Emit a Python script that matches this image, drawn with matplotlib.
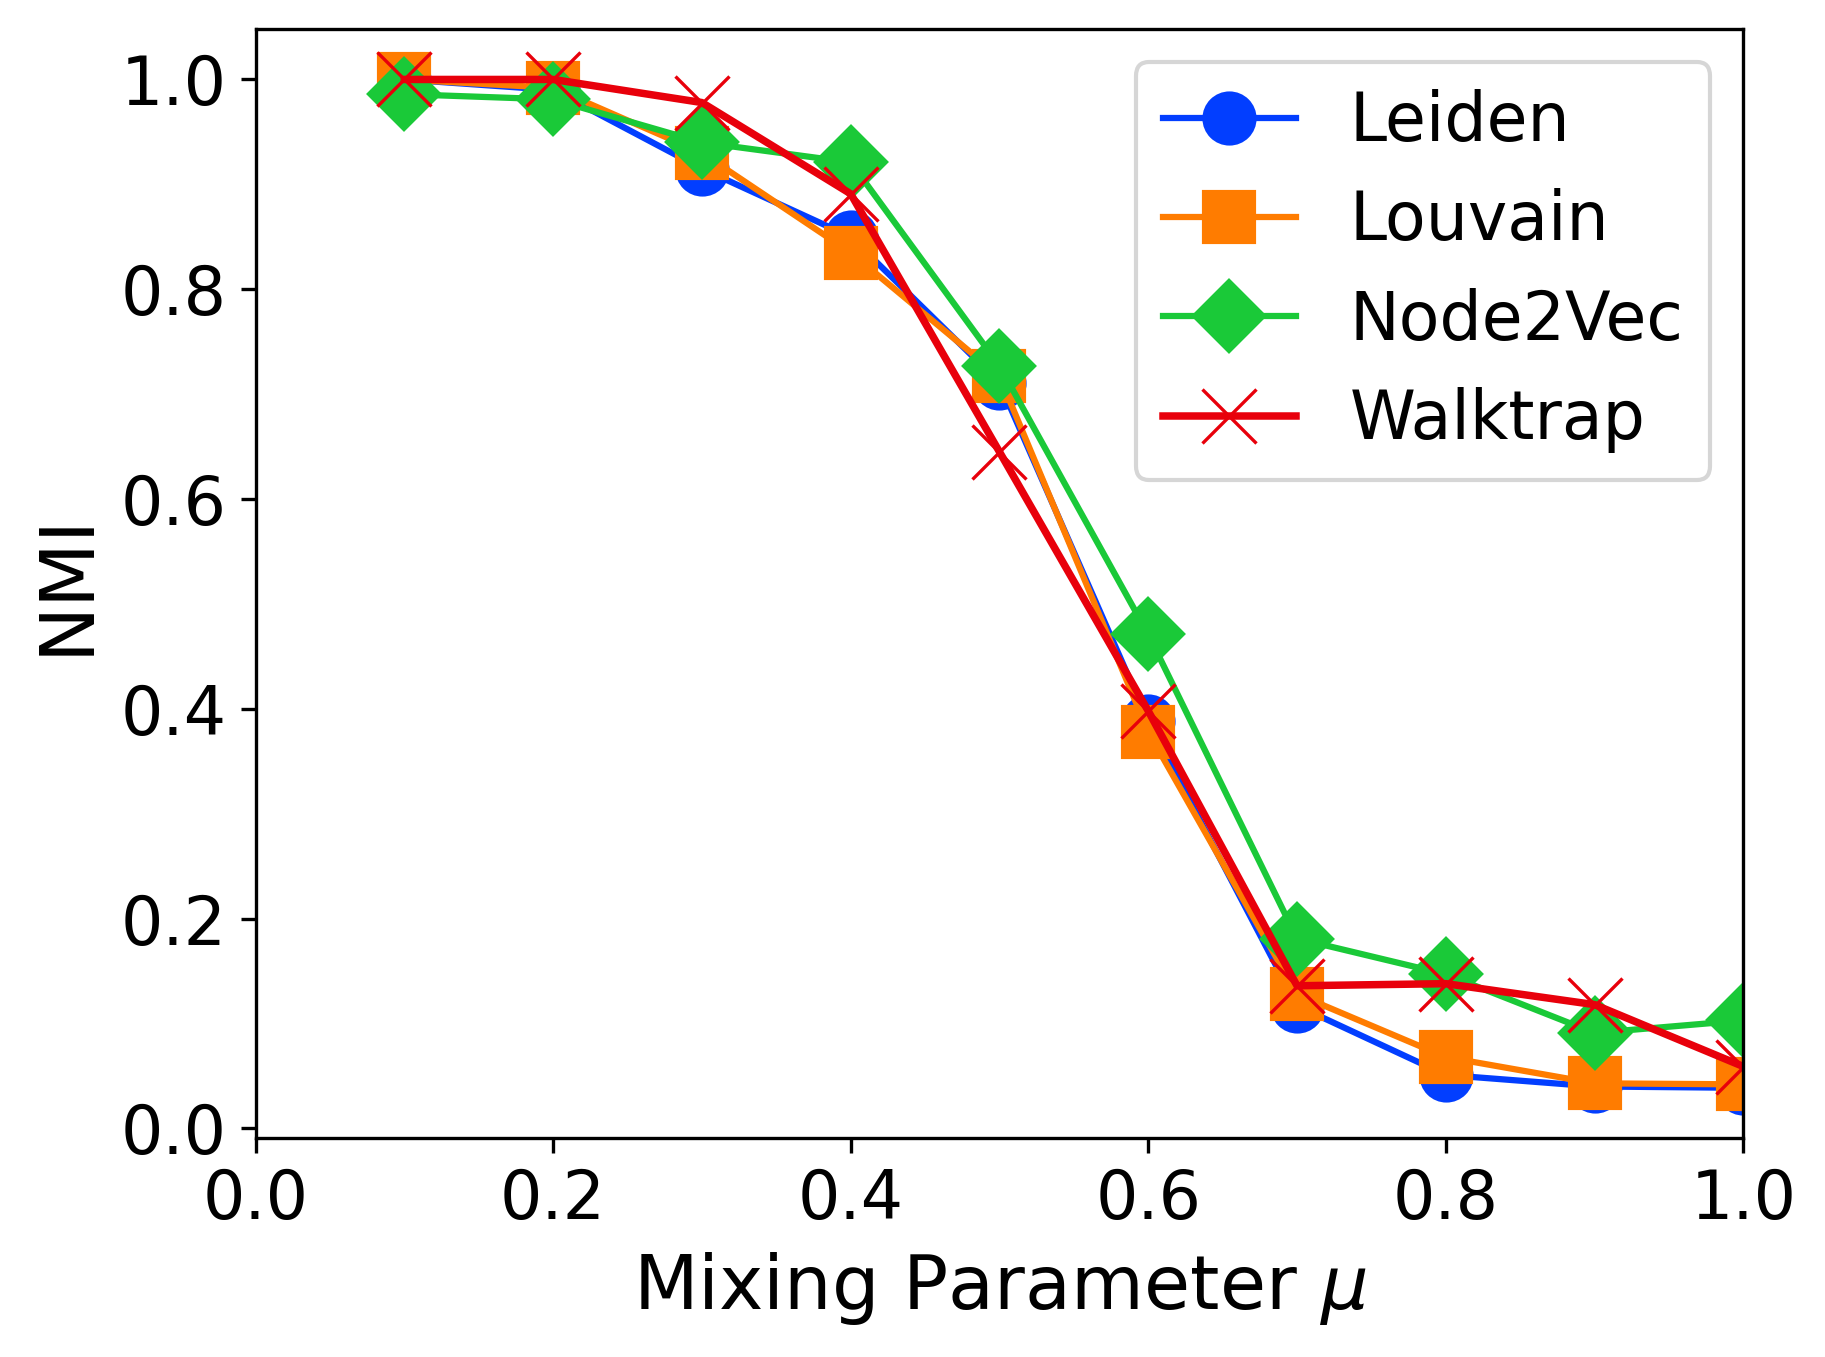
import matplotlib
matplotlib.use('Agg')
import matplotlib.pyplot as plt

mu = [0.1, 0.2, 0.3, 0.4, 0.5, 0.6, 0.7, 0.8, 0.9, 1.0]

leiden = [1.0, 0.99, 0.915, 0.850, 0.711, 0.388, 0.117, 0.051, 0.040, 0.0387]
louvain = [1.0, 0.992, 0.930, 0.835, 0.717, 0.378, 0.128, 0.068, 0.043, 0.042]
node2vec = [0.986, 0.981, 0.940, 0.921, 0.727, 0.471, 0.181, 0.147, 0.091, 0.103]
walktrap = [1.0, 1.0, 0.978, 0.891, 0.645, 0.398, 0.136, 0.138, 0.118, 0.059]

# seaborn "bright" palette colours
series = [
    ('Leiden', leiden, 'o', '#023eff', 1.5, 12),
    ('Louvain', louvain, 's', '#ff7c00', 1.5, 12),
    ('Node2Vec', node2vec, 'D', '#1ac938', 1.5, 12),
    ('Walktrap', walktrap, 'x', '#e8000b', 1.8, 13),
]

fig = plt.figure(figsize=(1825 / 300, 1357 / 300), dpi=300)
ax = fig.add_axes([0.1400, 0.1612, 0.8153, 0.8174])

for name, vals, mk, col, lw, ms in series:
    ax.plot(mu, vals, marker=mk, color=col, label=name, markersize=ms,
            linewidth=lw, markeredgewidth=0.8 if mk == 'x' else 1.0)

ax.set_xlim(0, 1.0)
ax.set_xlabel(r'Mixing Parameter $\mu$', fontsize=18)
ax.set_ylabel('NMI', fontsize=18)
ax.tick_params(labelsize=16)
ax.legend(loc='upper right', fontsize=16)

fig.savefig('out.png', dpi=300)
